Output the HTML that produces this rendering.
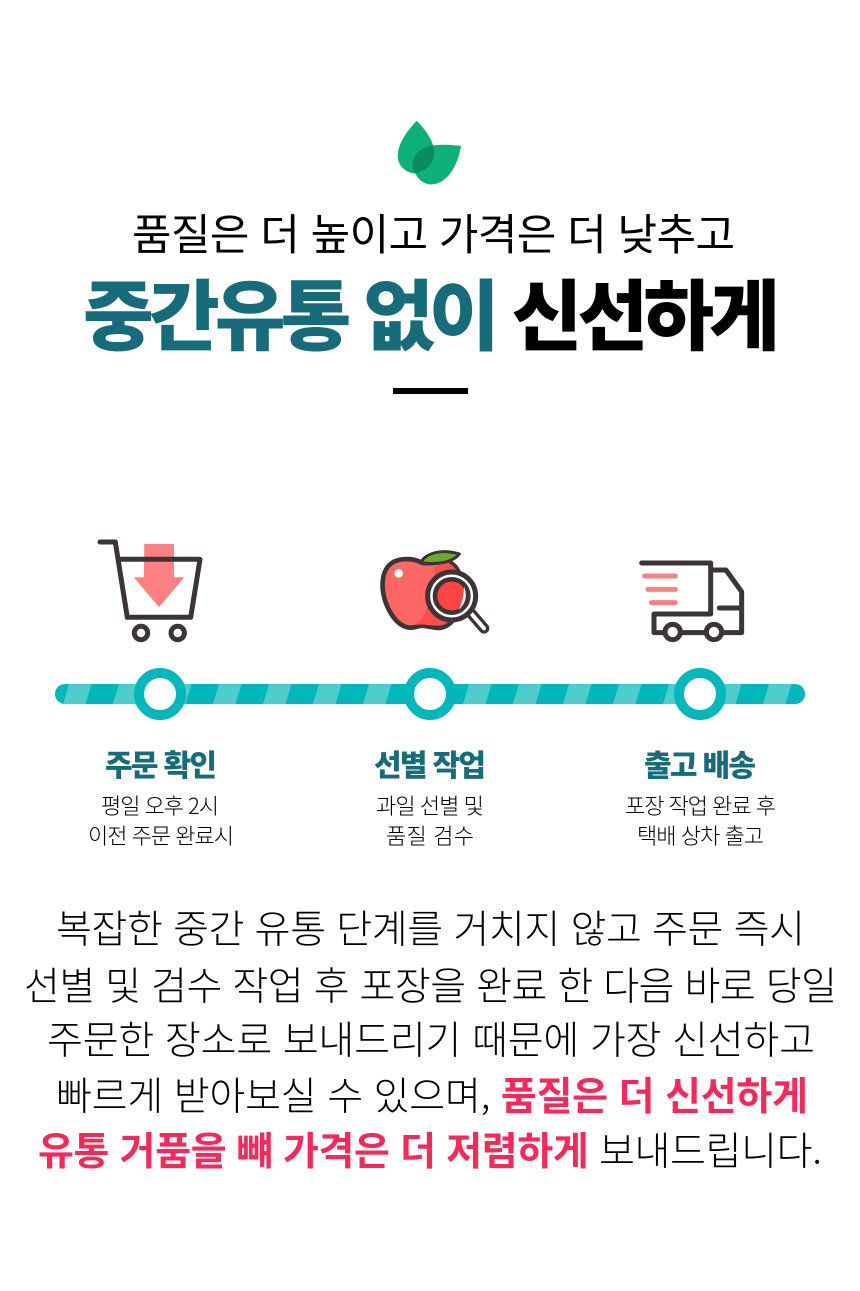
<!DOCTYPE html>
<html lang="ko"><head><meta charset="utf-8"><title>중간유통 없이 신선하게</title>
<style>
html,body{margin:0;padding:0;background:#fff}
svg{display:block}
text{font-family:"Noto Sans CJK KR","Liberation Sans",sans-serif;font-kerning:none}
.t1{font-size:43px;font-weight:400;fill:#000}
.t2{font-size:77px;font-weight:900}
.h{font-size:30px;font-weight:900;fill:#176c7c}
.s{font-size:22px;font-weight:300;fill:#000}
.p{font-size:39px;font-weight:300;fill:#000}
.b{font-weight:700;fill:#fb2758}
</style></head><body>
<svg width="860" height="1291" viewBox="0 0 860 1291" xmlns="http://www.w3.org/2000/svg">
<rect width="860" height="1291" fill="#fff"/>
<path d="M416.700 120.700C408 130 398 143 397.700 155C397.500 166 406 173 415 173.500C427 173 434.500 163 434.300 152C434 141 425 129 416.700 120.700Z" fill="#0db077"/>
<path d="M433 145.500C444 144 453 145 461 146C459 160 450 184 431 184.500C420 184 414 174 413.500 166C421 166 433 164 434.300 152Z" fill="#0db077"/>
<path d="M433 145.500C421 147 413 155 412.500 164C412.500 168 413 171 414 173C426 172.500 434.500 163 434.300 152C434.200 149.500 433.700 147.500 433 145.500Z" fill="#0a8c62"/>
<text class="t1" x="132" y="250" textLength="603" lengthAdjust="spacing">품질은 더 높이고 가격은 더 낮추고</text>
<text class="t2" x="83" y="344" textLength="697" lengthAdjust="spacing"><tspan fill="#176c7c">중간유통 없이</tspan><tspan fill="#000"> 신선하게</tspan></text>
<rect x="393" y="388" width="75" height="6" fill="#000"/>

<path d="M145 544.700H173.300V578H182.700L159 606L135.300 578H144.700Z" fill="#ff8080" stroke="#ff8080" stroke-width="1.500" stroke-linejoin="round"/>
<path d="M100 542H115.300L127.300 617.300H190.700L200 559.300H119" fill="none" stroke="#3d3535" stroke-width="5" stroke-linecap="round" stroke-linejoin="round"/>
<circle cx="141" cy="633" r="6.700" fill="#fff" stroke="#3d3535" stroke-width="5"/>
<circle cx="177.700" cy="633" r="6.700" fill="#fff" stroke="#3d3535" stroke-width="5"/>

<g transform="translate(360 530) scale(.3333)">
<path d="M185 98C160 84 125 84 100 96C75 110 66 140 68 175C72 225 105 290 150 293C165 294 175 287 187 287C205 288 225 297 245 293C280 285 305 240 308 190C310 150 295 110 270 98C245 90 215 105 185 98Z" fill="#ff6666" stroke="#3d3535" stroke-width="14" stroke-linejoin="round"/>
<path d="M165 285C200 260 225 200 225 110C245 100 265 92 272 103C295 115 302 150 301 190C298 240 275 280 245 286C220 290 190 280 165 285Z" fill="#ff4d4d"/>
<path d="M182 98C200 65 250 58 298 72C280 96 230 106 182 98Z" fill="#6cab30" stroke="#3d3535" stroke-width="9" stroke-linejoin="round"/>
<circle cx="116" cy="130" r="13" fill="#fff"/>
<path d="M335 252L372 295" stroke="#3d3535" stroke-width="32" stroke-linecap="round"/>
<path d="M335 252L372 295" stroke="#fff" stroke-width="12" stroke-linecap="round"/>
<circle cx="275" cy="198" r="72" fill="#fff" stroke="#3d3535" stroke-width="15"/>
<circle cx="275" cy="198" r="50" fill="#ff4444" stroke="#3d3535" stroke-width="14"/>
<path d="M312 170C322 195 318 220 296 240C305 222 312 195 312 170Z" fill="#fff"/>
</g>

<g transform="translate(620 540) scale(.3333)" fill="none" stroke="#3d3535" stroke-width="15" stroke-linecap="round" stroke-linejoin="round">
<path d="M65 69H272V222H102V278H365V155L318 90H272"/>
<path d="M298 204H365"/>
<circle cx="158" cy="276" r="23" fill="#fff"/>
<circle cx="282" cy="276" r="23" fill="#fff"/>
<path d="M74 108H166M84 148H166M94 188H166" stroke="#ff8080" stroke-width="15"/>
</g>

<rect x="55" y="684" width="750" height="20" rx="10" fill="#00b7bb"/>
<g fill="#4fcdcd">
<path d="M63 704L69 684H91.500L85.500 704Z"/><path d="M113 704L119 684H141.500L135.500 704Z"/>
<path d="M163 704L169 684H191.500L185.500 704Z"/><path d="M213 704L219 684H241.500L235.500 704Z"/>
<path d="M263 704L269 684H291.500L285.500 704Z"/><path d="M313 704L319 684H341.500L335.500 704Z"/>
<path d="M363 704L369 684H391.500L385.500 704Z"/><path d="M413 704L419 684H441.500L435.500 704Z"/>
<path d="M463 704L469 684H491.500L485.500 704Z"/><path d="M513 704L519 684H541.500L535.500 704Z"/>
<path d="M563 704L569 684H591.500L585.500 704Z"/><path d="M613 704L619 684H641.500L635.500 704Z"/>
<path d="M663 704L669 684H691.500L685.500 704Z"/><path d="M713 704L719 684H741.500L735.500 704Z"/>
<path d="M763 704L769 684H791.500L785.500 704Z"/>
</g>
<g fill="#fff" stroke="#00b7bb" stroke-width="10">
<circle cx="160" cy="694" r="21"/><circle cx="430" cy="694" r="21"/><circle cx="700" cy="694" r="21"/>
</g>

<text class="h" x="105" y="776" textLength="112" lengthAdjust="spacing">주문 확인</text>
<text class="h" x="374" y="776" textLength="112" lengthAdjust="spacing">선별 작업</text>
<text class="h" x="644" y="776" textLength="112" lengthAdjust="spacing">출고 배송</text>
<text class="s" x="101" y="814" textLength="118" lengthAdjust="spacing">평일 오후 2시</text>
<text class="s" x="88" y="844" textLength="146" lengthAdjust="spacing">이전 주문 완료시</text>
<text class="s" x="376" y="814" textLength="108" lengthAdjust="spacing">과일 선별 및</text>
<text class="s" x="386" y="844" textLength="88" lengthAdjust="spacing">품질 검수</text>
<text class="s" x="625" y="814" textLength="151" lengthAdjust="spacing">포장 작업 완료 후</text>
<text class="s" x="637" y="844" textLength="127" lengthAdjust="spacing">택배 상차 출고</text>

<text class="p" x="56" y="943" textLength="749" lengthAdjust="spacing">복잡한 중간 유통 단계를 거치지 않고 주문 즉시</text>
<text class="p" x="24" y="1000" textLength="813" lengthAdjust="spacing">선별 및 검수 작업 후 포장을 완료 한 다음 바로 당일</text>
<text class="p" x="47" y="1054" textLength="768" lengthAdjust="spacing">주문한 장소로 보내드리기 때문에 가장 신선하고</text>
<text class="p" x="56" y="1110" textLength="752" lengthAdjust="spacing">빠르게 받아보실 수 있으며, <tspan class="b">품질은 더 신선하게</tspan></text>
<text class="p" x="38" y="1165" textLength="784" lengthAdjust="spacing"><tspan class="b">유통 거품을 뺴 가격은 더 저렴하게</tspan> 보내드립니다.</text>
</svg>
</body></html>
